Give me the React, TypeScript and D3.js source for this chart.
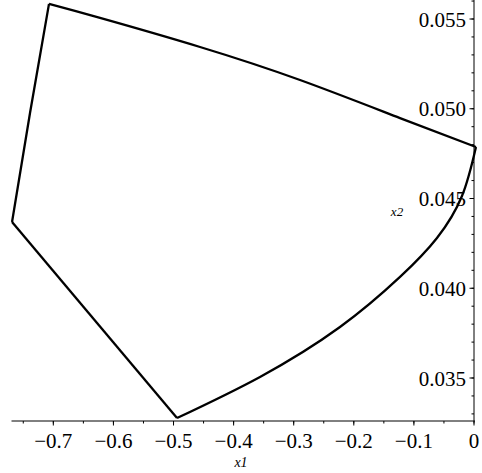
import React from "react";
import * as d3 from "d3";

const xTicks = [-0.7, -0.6, -0.5, -0.4, -0.3, -0.2, -0.1, 0];
const xTickLabels = ["\u22120.7", "\u22120.6", "\u22120.5", "\u22120.4", "\u22120.3", "\u22120.2", "\u22120.1", "0"];
const yTicks = [0.035, 0.04, 0.045, 0.05, 0.055];
const yTickLabels = ["0.035", "0.040", "0.045", "0.050", "0.055"];

// boundary edges of the region (x1, x2)
const topEdgeX = [-0.7072, -0.6223, -0.4559, -0.2895, -0.1231, 0.0033];
const topEdgeY = [0.05584, 0.05506, 0.05344, 0.0516, 0.04948, 0.04787];
const rightEdgeX = [0.0033, -0.02, -0.0616, -0.1231, -0.223, -0.3561, -0.4942];
const rightEdgeY = [0.04787, 0.04514, 0.0428, 0.04063, 0.03784, 0.03506, 0.03277];
const bottomEdgeX = [-0.4942, -0.7687];
const bottomEdgeY = [0.03277, 0.04369];
const leftEdgeX = [-0.7687, -0.7388, -0.7072];
const leftEdgeY = [0.04369, 0.04976, 0.05584];

const W = 482;
const H = 473;
const SERIF = "Liberation Serif, Times New Roman, DejaVu Serif, serif";

export default function App() {
  const x = d3.scaleLinear().domain([-0.7696, 0]).range([11.5, 474]);
  const y = d3.scaleLinear().domain([0.035, 0.055]).range([378, 19]);
  const yTop = y.invert(0);
  const yBot = y.invert(421);

  const toPts = (xs: number[], ys: number[]) => xs.map((v, i) => [v, ys[i]] as [number, number]);
  const curve = d3
    .line<[number, number]>()
    .x((d) => x(d[0]))
    .y((d) => y(d[1]))
    .curve(d3.curveNatural);
  const straight = d3
    .line<[number, number]>()
    .x((d) => x(d[0]))
    .y((d) => y(d[1]));

  const xMinor = d3.range(-0.75, 0.001, 0.05).filter((v) => x(v) >= 11);
  const yMinor = d3.range(0.033, 0.0561, 0.001).filter((v) => y(v) >= 0 && y(v) <= 421);

  const axisY = y(yBot);
  const axisX = x(0);
  const txt = { fontFamily: SERIF } as React.CSSProperties;

  return (
    <svg
      width={W}
      height={H}
      style={{ position: "absolute", left: 0, top: 0, background: "#fff", fontFamily: SERIF }}
    >
      {/* x axis */}
      <line x1={x(-0.7696)} x2={axisX + 1} y1={axisY} y2={axisY} stroke="#000" strokeWidth={1} />
      {xMinor.map((v, i) => (
        <line key={"xm" + i} x1={x(v)} x2={x(v)} y1={axisY} y2={axisY + 2.5} stroke="#000" strokeWidth={1} />
      ))}
      {xTicks.map((v, i) => (
        <g key={"xt" + i}>
          <line x1={x(v)} x2={x(v)} y1={axisY} y2={axisY + 4.5} stroke="#000" strokeWidth={1} />
          <text x={x(v)} y={448} textAnchor="middle" fontSize={21} fill="#000" style={txt}>
            {xTickLabels[i]}
          </text>
        </g>
      ))}
      <text x={241} y={467} textAnchor="middle" fontSize={14} fontStyle="italic" fill="#000" style={txt}>
        x1
      </text>

      {/* y axis */}
      <line x1={axisX} x2={axisX} y1={y(yTop)} y2={axisY} stroke="#000" strokeWidth={1} />
      {yMinor.map((v, i) => (
        <line key={"ym" + i} x1={axisX - 2.5} x2={axisX} y1={y(v)} y2={y(v)} stroke="#000" strokeWidth={1} />
      ))}
      {yTicks.map((v, i) => (
        <g key={"yt" + i}>
          <line x1={axisX - 4.5} x2={axisX} y1={y(v)} y2={y(v)} stroke="#000" strokeWidth={1} />
          <text x={466} y={y(v) + 7.5} textAnchor="end" fontSize={21} fill="#000" style={txt}>
            {yTickLabels[i]}
          </text>
        </g>
      ))}
      <text x={397} y={216} textAnchor="middle" fontSize={13} fontStyle="italic" fill="#000" style={txt}>
        x2
      </text>

      {/* region boundary */}
      <g fill="none" stroke="#000" strokeWidth={2.3} strokeLinejoin="miter">
        <path d={curve(toPts(topEdgeX, topEdgeY)) || ""} />
        <path d={curve(toPts(rightEdgeX, rightEdgeY)) || ""} />
        <path d={straight(toPts(bottomEdgeX, bottomEdgeY)) || ""} />
        <path d={curve(toPts(leftEdgeX, leftEdgeY)) || ""} />
      </g>
    </svg>
  );
}
